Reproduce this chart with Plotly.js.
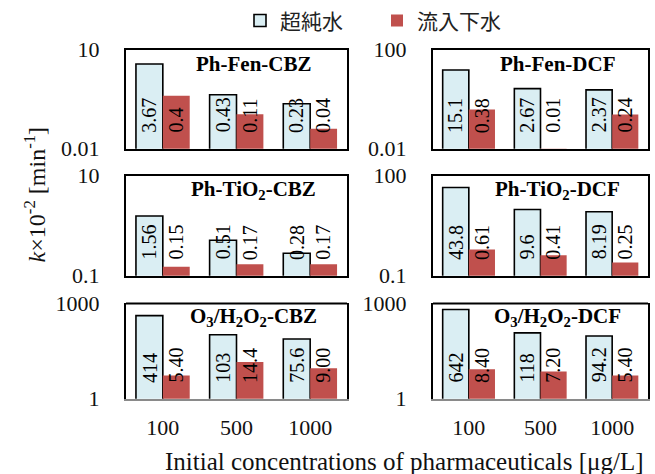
<!DOCTYPE html>
<html>
<head>
<meta charset="utf-8">
<script src="https://cdn.plot.ly/plotly-3.0.1.min.js"></script>
<style>html,body{margin:0;padding:0;background:#fff;}#chart{width:655px;height:474px;}</style>
</head>
<body>
<div id="chart"></div>
<script>
// ---- data ----
const categories = ['100', '500', '1000'];
const seriesNames = ['超純水', '流入下水'];
const panelTitles = ['Ph-Fen-CBZ', 'Ph-Fen-DCF', 'Ph-TiO<sub>2</sub>-CBZ', 'Ph-TiO<sub>2</sub>-DCF',
  'O<sub>3</sub>/H<sub>2</sub>O<sub>2</sub>-CBZ', 'O<sub>3</sub>/H<sub>2</sub>O<sub>2</sub>-DCF'];
const phFenCBZ_upw = [3.67, 0.43, 0.23];
const phFenCBZ_ww = [0.4, 0.11, 0.04];
const phFenDCF_upw = [15.1, 2.67, 2.37];
const phFenDCF_ww = [0.38, 0.01, 0.24];
const phTiO2CBZ_upw = [1.56, 0.51, 0.28];
const phTiO2CBZ_ww = [0.15, 0.17, 0.17];
const phTiO2DCF_upw = [43.8, 9.6, 8.19];
const phTiO2DCF_ww = [0.61, 0.41, 0.25];
const o3CBZ_upw = [414, 103, 75.6];
const o3CBZ_ww = [5.40, 14.4, 9.00];
const o3DCF_upw = [642, 118, 94.2];
const o3DCF_ww = [8.40, 7.20, 5.40];
const labels_upw = [['3.67', '0.43', '0.23'], ['15.1', '2.67', '2.37'], ['1.56', '0.51', '0.28'],
  ['43.8', '9.6', '8.19'], ['414', '103', '75.6'], ['642', '118', '94.2']];
const labels_ww = [['0.4', '0.11', '0.04'], ['0.38', '0.01', '0.24'], ['0.15', '0.17', '0.17'],
  ['0.61', '0.41', '0.25'], ['5.40', '14.4', '9.00'], ['8.40', '7.20', '5.40']];
const yTickVals = [[0.01, 10], [0.01, 100], [0.1, 10], [0.1, 100], [1, 1000], [1, 1000]];
const yTickText = [['0.01', '10'], ['0.01', '100'], ['0.1', '10'], ['0.1', '100'], ['1', '1000'], ['1', '1000']];

const upwData = [phFenCBZ_upw, phFenDCF_upw, phTiO2CBZ_upw, phTiO2DCF_upw, o3CBZ_upw, o3DCF_upw];
const wwData = [phFenCBZ_ww, phFenDCF_ww, phTiO2CBZ_ww, phTiO2DCF_ww, o3CBZ_ww, o3DCF_ww];

// ---- styling ----
const W = 655, H = 474;
const serif = 'Liberation Serif, Times New Roman, serif';
const blueFill = '#DAEEF3', redFill = '#C0504D';
const bargap = 0.27;
const colX = [[126, 347], [433, 648]];
const rowY = [[46, 146], [173, 274], [302, 398]];

const traces = [];
const layout = {
  width: W, height: H,
  margin: {l: 0, r: 0, t: 0, b: 0},
  paper_bgcolor: '#fff', plot_bgcolor: '#fff',
  barmode: 'group', bargap: bargap, bargroupgap: 0,
  font: {family: serif, size: 22, color: '#000'},
  showlegend: true,
  legend: {orientation: 'h', x: 240 / W, y: 1 - 17 / H, xanchor: 'left', yanchor: 'middle',
    font: {family: 'Noto Sans CJK JP, sans-serif', size: 21, color: '#222'},
    entrywidth: 92, entrywidthmode: 'pixels', bgcolor: 'rgba(0,0,0,0)'},
  annotations: [], shapes: []
};

const off = (1 - bargap) / 4;
for (let p = 0; p < 6; p++) {
  const r = Math.floor(p / 2), c = p % 2;
  const n = p + 1;
  const xa = 'x' + (n === 1 ? '' : n), ya = 'y' + (n === 1 ? '' : n);
  const xk = 'xaxis' + (n === 1 ? '' : n), yk = 'yaxis' + (n === 1 ? '' : n);
  traces.push({type: 'bar', x: categories, y: upwData[p], name: seriesNames[0], xaxis: xa, yaxis: ya,
    marker: {color: blueFill, line: {color: '#000', width: 1.6}}, showlegend: p === 0, legendgroup: 'a', hoverinfo: 'skip'});
  traces.push({type: 'bar', x: categories, y: wwData[p], name: seriesNames[1], xaxis: xa, yaxis: ya,
    marker: {color: redFill, line: {width: 0}}, showlegend: p === 0, legendgroup: 'b', hoverinfo: 'skip'});
  const lo = Math.log10(yTickVals[p][0]), hi = Math.log10(yTickVals[p][1]);
  const bottomRow = r === 2;
  layout[xk] = {domain: [colX[c][0] / W, colX[c][1] / W], anchor: ya, type: 'category',
    showline: true, linecolor: bottomRow ? '#8a8a8a' : '#000', linewidth: 2, mirror: !bottomRow,
    showgrid: false, zeroline: false, ticks: '', showticklabels: bottomRow, ticklabelstandoff: 8,
    tickfont: {family: serif, size: 22, color: '#111'}, fixedrange: true};
  layout[yk] = {domain: [1 - rowY[r][1] / H, 1 - rowY[r][0] / H], anchor: xa, type: 'log',
    range: [lo, hi], showline: true, linecolor: '#000', linewidth: 2, mirror: true,
    showgrid: false, zeroline: false, ticks: '', tickvals: yTickVals[p], ticktext: yTickText[p],
    ticklabelstandoff: 20, tickfont: {family: serif, size: 22, color: '#111'}, fixedrange: true};
  if (bottomRow) {
    layout.shapes.push({type: 'line', xref: xa + ' domain', yref: ya + ' domain', x0: 0, x1: 1, y0: 1, y1: 1,
      line: {color: '#000', width: 2}});
  }
  // panel title
  layout.annotations.push({xref: xa + ' domain', yref: ya + ' domain', x: 0.577, y: 0.855,
    xanchor: 'center', yanchor: 'middle', showarrow: false, text: '<b>' + panelTitles[p] + '</b>',
    font: {family: serif, size: 21, color: '#000'}});
  // value labels
  for (let i = 0; i < categories.length; i++) {
    layout.annotations.push({xref: xa, yref: ya + ' domain', x: i - off, y: 0, xanchor: 'center', yanchor: 'bottom',
      yshift: 14, textangle: -90, showarrow: false, text: labels_upw[p][i],
      font: {family: serif, size: 20, color: '#000'}});
    layout.annotations.push({xref: xa, yref: ya + ' domain', x: i + off, y: 0, xanchor: 'center', yanchor: 'bottom',
      yshift: 14, textangle: -90, showarrow: false, text: labels_ww[p][i],
      font: {family: serif, size: 20, color: '#000'}});
  }
}

// axis titles
layout.annotations.push({xref: 'paper', yref: 'paper', x: 35 / W, y: 1 - 192 / H, xanchor: 'center', yanchor: 'middle',
  textangle: -90, showarrow: false, text: '<i>k</i>×10<sup>-2</sup> [min<sup>-1</sup>]',
  font: {family: serif, size: 24, color: '#111'}});
layout.annotations.push({xref: 'paper', yref: 'paper', x: 404 / W, y: 1 - 461 / H, xanchor: 'center', yanchor: 'middle',
  showarrow: false, text: 'Initial concentrations of pharmaceuticals [μg/L]',
  font: {family: serif, size: 25, color: '#111'}});

Plotly.newPlot('chart', traces, layout, {displayModeBar: false, staticPlot: true});
</script>
</body>
</html>
